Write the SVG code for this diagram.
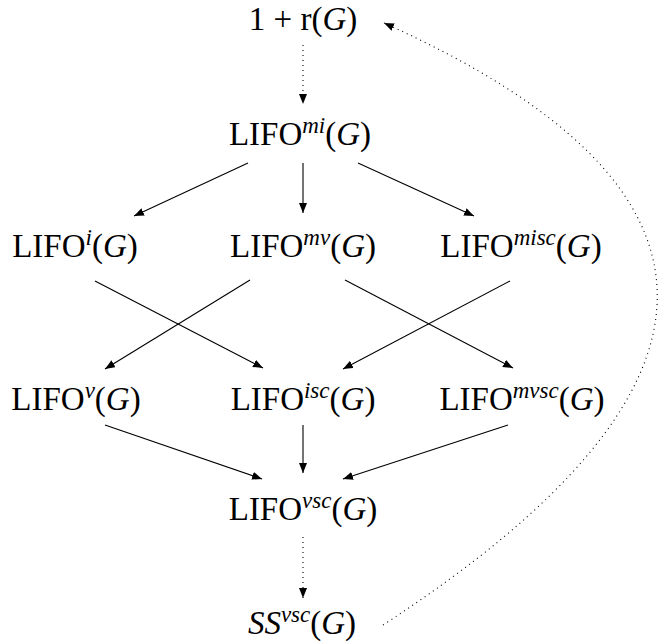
<svg xmlns="http://www.w3.org/2000/svg" width="660" height="644" viewBox="0 0 660 644">
<style>
.t{font-family:"Liberation Serif","Times New Roman",serif;font-size:33px;fill:#000;text-anchor:middle}
.sup{font-size:23px;font-style:italic}
.it{font-style:italic}
.e{stroke:#000;stroke-width:1.1;fill:none;marker-end:url(#ah)}
.d{stroke:#000;stroke-width:1.1;fill:none;stroke-dasharray:1 4;marker-end:url(#ah)}
</style>
<defs>
<marker id="ah" markerUnits="userSpaceOnUse" markerWidth="10" markerHeight="8" refX="10" refY="4" orient="auto">
<path d="M0,0 L10,4 L0,8 Z" fill="#000"/>
</marker>
</defs>
<g id="n_r"><text class="t" x="303" y="30">1 + r(<tspan class="it">G</tspan>)</text></g>
<g id="n_mi"><text class="t" x="300" y="145">LIFO<tspan class="sup" dy="-12">mi</tspan><tspan dy="12">(</tspan><tspan class="it">G</tspan>)</text></g>
<g id="n_i"><text class="t" x="75" y="257">LIFO<tspan class="sup" dy="-12">i</tspan><tspan dy="12">(</tspan><tspan class="it">G</tspan>)</text></g>
<g id="n_mv"><text class="t" x="303" y="257">LIFO<tspan class="sup" dy="-12">mv</tspan><tspan dy="12">(</tspan><tspan class="it">G</tspan>)</text></g>
<g id="n_misc"><text class="t" x="521" y="257">LIFO<tspan class="sup" dy="-12">misc</tspan><tspan dy="12">(</tspan><tspan class="it">G</tspan>)</text></g>
<g id="n_v"><text class="t" x="76" y="410">LIFO<tspan class="sup" dy="-12">v</tspan><tspan dy="12">(</tspan><tspan class="it">G</tspan>)</text></g>
<g id="n_isc"><text class="t" x="303" y="410">LIFO<tspan class="sup" dy="-12">isc</tspan><tspan dy="12">(</tspan><tspan class="it">G</tspan>)</text></g>
<g id="n_mvsc"><text class="t" x="522" y="410">LIFO<tspan class="sup" dy="-12">mvsc</tspan><tspan dy="12">(</tspan><tspan class="it">G</tspan>)</text></g>
<g id="n_vsc"><text class="t" x="303" y="520">LIFO<tspan class="sup" dy="-12">vsc</tspan><tspan dy="12">(</tspan><tspan class="it">G</tspan>)</text></g>
<g id="n_ss"><text class="t" x="302" y="634"><tspan class="it">SS</tspan><tspan class="sup" dy="-12">vsc</tspan><tspan dy="12">(</tspan><tspan class="it">G</tspan>)</text></g>
<g id="connectors">
<path class="d" d="M303,45 L303,104"/>
<path class="e" d="M248,163 L134,216"/>
<path class="e" d="M303,163 L303,213"/>
<path class="e" d="M358,163 L474,216"/>
<path class="e" d="M95,281 L263,368"/>
<path class="e" d="M250,280 L105,369"/>
<path class="e" d="M345,280 L513,368"/>
<path class="e" d="M510,281 L343,369"/>
<path class="e" d="M105,425 L262,479"/>
<path class="e" d="M303,425 L303,473"/>
<path class="e" d="M508,425 L343,479"/>
<path class="d" d="M303,537 L303,598"/>
<path class="d" d="M383,625 C748,388 749,187 384,23"/>
</g>
</svg>
